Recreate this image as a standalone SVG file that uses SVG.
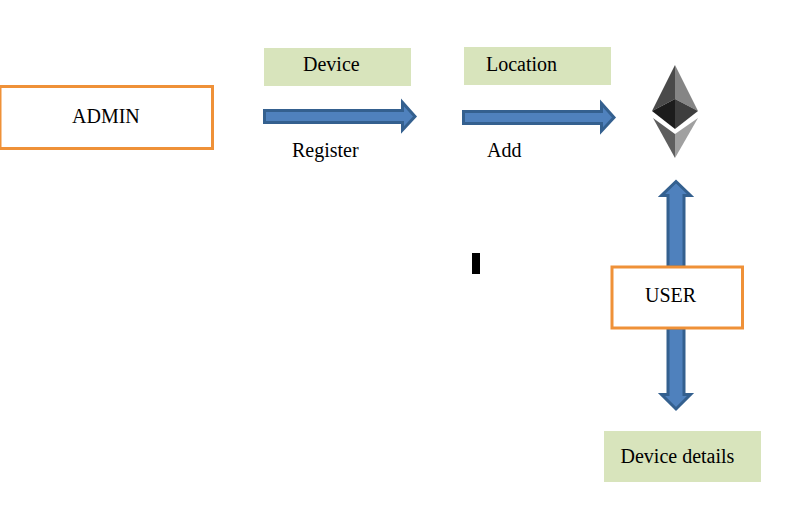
<svg xmlns="http://www.w3.org/2000/svg" width="797" height="520" viewBox="0 0 797 520">
<style>
text{font-family:"Liberation Serif","Times New Roman",serif;font-size:20px;fill:#000}
.box{fill:#fff;stroke:#ef9138;stroke-width:3}
.tag{fill:#d8e4bc}
.arrow{fill:#4f81bd;stroke:#34608f;stroke-width:3;stroke-linejoin:miter}
</style>
<rect width="797" height="520" fill="#fff"/>
<g id="connectors">
<path class="arrow" d="M264.500 110.500H402.500V102.500L415 116.500L402.500 130V122.500H264.500Z"/>
<path class="arrow" d="M463.500 111.500H601.500V103.500L614 117.500L601.500 131V123.500H463.500Z"/>
<path class="arrow" d="M668 267V195.500H661.500L676 181.500L690.500 195.500H684V267Z"/>
<path class="arrow" d="M668 328V394.500H661.500L676 409L690.500 394.500H684V328Z"/>
</g>
<g id="admin"><rect class="box" x="0" y="86.500" width="212.500" height="62"/><text x="72" y="123">ADMIN</text></g>
<g id="device"><rect class="tag" x="264" y="48" width="147" height="38"/><text x="303" y="71">Device</text></g>
<g id="location"><rect class="tag" x="464" y="47" width="147" height="38"/><text x="486" y="71">Location</text></g>
<g id="register"><text x="292" y="157">Register</text></g>
<g id="add"><text x="487" y="157">Add</text></g>
<g id="ethereum">
<polygon points="675,65 652,111 675,99" fill="#4a4a4a"/>
<polygon points="675,65 698,111 675,99" fill="#858585"/>
<polygon points="675,99 652,111 675,129" fill="#1c1c1c"/>
<polygon points="675,99 698,111 675,129" fill="#3e3e3e"/>
<polygon points="653,118 675,134 675,158" fill="#5e5e5e"/>
<polygon points="698,118 675,134 675,158" fill="#a0a0a0"/>
</g>
<rect id="marker" x="472" y="253" width="8" height="21" fill="#000"/>
<g id="user"><rect class="box" x="612" y="267" width="130.500" height="61"/><text x="645" y="302">USER</text></g>
<g id="device-details"><rect class="tag" x="604" y="431" width="157" height="51"/><text x="620.500" y="463">Device details</text></g>
</svg>
